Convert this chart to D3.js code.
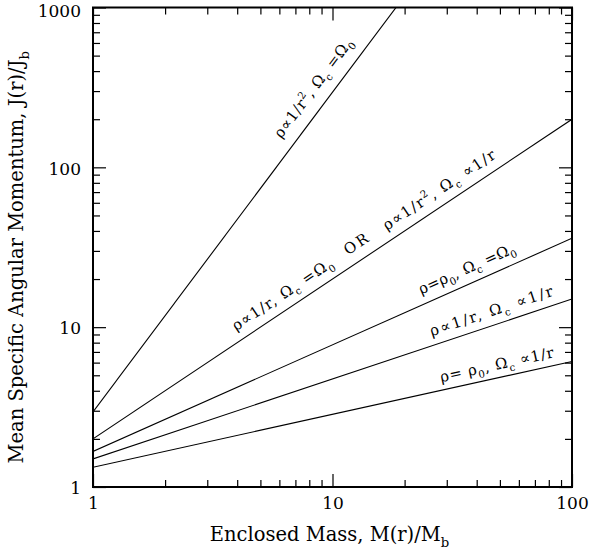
<!DOCTYPE html>
<html><head><meta charset="utf-8">
<script src="https://cdn.jsdelivr.net/npm/d3@7/dist/d3.min.js"></script>
<style>
body{margin:0;background:#fff;}
text{font-family:"DejaVu Serif",serif;fill:#000;white-space:pre;}
</style></head>
<body><svg id="c" width="591" height="554"></svg>
<script>
// ---- data ----
const massEnds = [1, 100];
const jSteep = [2.95, 29500];   // rho ∝ 1/r^2, Ωc = Ω0
const jLinear = [2, 200];       // rho ∝ 1/r, Ωc = Ω0  OR  rho ∝ 1/r^2, Ωc ∝ 1/r
const jTwoThirds = [1.67, 36];  // rho = rho0, Ωc = Ω0
const jHalf = [1.5, 15];        // rho ∝ 1/r, Ωc ∝ 1/r
const jThird = [1.33, 6.1];     // rho = rho0, Ωc ∝ 1/r
const xMajorTicks = [1, 10, 100];
const yMajorTicks = [1, 10, 100, 1000];
const xLabel = "Enclosed Mass, M(r)/M_{b}";
const yLabel = "Mean Specific Angular Momentum, J(r)/J_{b}";

const series = [jSteep, jLinear, jTwoThirds, jHalf, jThird];
// labels: which series, start mass along line, text
const labelSeries = [0, 1, 1, 1, 2, 3, 4];
const labelMass = [6.75, 4.18, 12.3, 17.8, 24.4, 26.7, 28.9];
const labelTexts = [
  "ρ∝1/r^{2}, Ω_{c} =Ω_{0}",
  "ρ∝1/r, Ω_{c} =Ω_{0}",
  "OR",
  "ρ∝1/r^{2}, Ω_{c} ∝1/r",
  "ρ=ρ_{0}, Ω_{c} =Ω_{0}",
  "ρ∝1/r, Ω_{c} ∝1/r",
  "ρ= ρ_{0}, Ω_{c} ∝1/r"
];

// ---- layout ----
const L = 93, R = 572, T = 7.5, B = 487;
const labelLen = [120, 118, 26, 132, 104, 129, 116];
const labelOff = [13, 10, 11, 10, 10, 9, 8];
const svg = d3.select("#c");
const x = d3.scaleLog().domain([1, 100]).range([L, R]);
const y = d3.scaleLog().domain([1, 1000]).range([B, T]);

function minors(lo, hi) {
  const out = [];
  for (let d = lo; d < hi; d *= 10) for (let k = 2; k <= 9; k++) out.push(d * k);
  return out;
}
const xMinor = minors(1, 100), yMinor = minors(1, 1000);

function rich(sel, str, size) {
  const re = /([_^])\{([^}]*)\}|([^_^]+)/g;
  let m, cur = 0, n = 0;
  while ((m = re.exec(str))) {
    let t, txt, fs;
    if (m[3] !== undefined) { t = 0; txt = m[3]; fs = size; }
    else { t = m[1] === "_" ? size * 0.3 : -size * 0.42; txt = m[2]; fs = size * 0.68; }
    sel.append("tspan").attr("dy", t - cur).attr("font-size", fs).text(txt);
    cur = t; n += txt.length;
  }
  return n;
}

// axes
const maj = 13, mnr = 7;
function styleAxis(g) {
  g.select(".domain").remove();
  g.selectAll("line").attr("stroke", "#000").attr("stroke-width", 1.2);
  g.selectAll("text").attr("font-family", "DejaVu Serif").attr("font-size", 17).attr("fill", "#000");
}
svg.append("g").attr("transform", `translate(0,${B})`)
  .call(d3.axisBottom(x).tickValues(xMajorTicks).tickSize(-maj).tickPadding(10).tickFormat(d3.format("d"))).call(styleAxis);
svg.append("g").attr("transform", `translate(0,${B})`)
  .call(d3.axisBottom(x).tickValues(xMinor).tickSize(-mnr).tickFormat("")).call(styleAxis);
svg.append("g").attr("transform", `translate(0,${T})`)
  .call(d3.axisTop(x).tickValues(xMajorTicks).tickSize(-maj).tickFormat("")).call(styleAxis);
svg.append("g").attr("transform", `translate(0,${T})`)
  .call(d3.axisTop(x).tickValues(xMinor).tickSize(-mnr).tickFormat("")).call(styleAxis);
const yAx = svg.append("g").attr("transform", `translate(${L},0)`)
  .call(d3.axisLeft(y).tickValues(yMajorTicks).tickSize(-maj).tickPadding(12).tickFormat(d3.format("d"))).call(styleAxis);
yAx.selectAll("text").attr("dy", d => d === 1000 ? "0.5em" : "0.4em");
svg.append("g").attr("transform", `translate(${L},0)`)
  .call(d3.axisLeft(y).tickValues(yMinor).tickSize(-mnr).tickFormat("")).call(styleAxis);
svg.append("g").attr("transform", `translate(${R},0)`)
  .call(d3.axisRight(y).tickValues(yMajorTicks).tickSize(-maj).tickFormat("")).call(styleAxis);
svg.append("g").attr("transform", `translate(${R},0)`)
  .call(d3.axisRight(y).tickValues(yMinor).tickSize(-mnr).tickFormat("")).call(styleAxis);

// frame
svg.append("rect").attr("x", L).attr("y", T).attr("width", R - L).attr("height", B - T)
  .attr("fill", "none").attr("stroke", "#000").attr("stroke-width", 2);

// lines
svg.append("clipPath").attr("id", "clip").append("rect")
  .attr("x", L).attr("y", T).attr("width", R - L).attr("height", B - T);
const line = d3.line().x(d => x(d[0])).y(d => y(d[1]));
svg.append("g").attr("clip-path", "url(#clip)").selectAll("path")
  .data(series).join("path")
  .attr("d", s => line(massEnds.map((m, i) => [m, s[i]])))
  .attr("fill", "none").attr("stroke", "#000").attr("stroke-width", 1.1);

// line labels
const fsz = 15;
labelTexts.forEach((txt, i) => {
  const s = series[labelSeries[i]];
  const m = labelMass[i];
  const f = (Math.log10(m) - Math.log10(massEnds[0])) / (Math.log10(massEnds[1]) - Math.log10(massEnds[0]));
  const jv = Math.pow(10, Math.log10(s[0]) + f * (Math.log10(s[1]) - Math.log10(s[0])));
  const px = x(m), py = y(jv);
  const ang = Math.atan2(y(s[1]) - y(s[0]), x(massEnds[1]) - x(massEnds[0])) * 180 / Math.PI;
  const t = svg.append("text").attr("transform", `translate(${px},${py}) rotate(${ang})`)
    .attr("y", -labelOff[i]).attr("font-size", fsz);
  const n = rich(t, txt, fsz);
  const natural = t.node().getComputedTextLength();
  const ls = Math.max(0, (labelLen[i] - natural) / Math.max(1, n - 1));
  t.attr("letter-spacing", ls);
});

// axis titles
const xt = svg.append("text").attr("x", (L + R) / 2 - 3).attr("y", 541).attr("text-anchor", "middle").attr("font-size", 19.5);
rich(xt, xLabel, 19.5);
const yt = svg.append("text").attr("transform", `translate(23,${(T + B) / 2 + 10}) rotate(-90)`).attr("text-anchor", "middle").attr("font-size", 19.5);
rich(yt, yLabel, 19.5);
</script></body></html>
